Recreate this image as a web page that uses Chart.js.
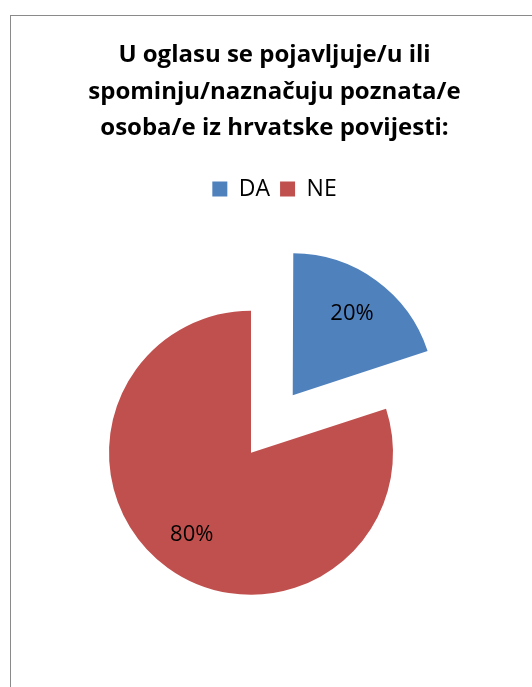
<!DOCTYPE html>
<html>
<head>
<meta charset="utf-8">
<script src="https://cdn.jsdelivr.net/npm/chart.js@4/dist/chart.umd.min.js"></script>
<style>
    html, body { margin: 0; padding: 0; background: #fff; overflow: hidden; }
    #frame {
        position: absolute; left: 10px; top: 15px;
        width: 527px; height: 700px;
        border-top: 1px solid #8a8a8a; border-left: 1px solid #8a8a8a;
    }
    #frame canvas { display: block; }
</style>
</head>
<body>
<div id="frame"><canvas id="pie-chart" width="527" height="700"></canvas></div>
<script>
// Chart data
const titleLines = ['U oglasu se pojavljuje/u ili', 'spominju/naznačuju poznata/e', 'osoba/e iz hrvatske povijesti:'];
const categories = ['DA', 'NE'];
const shares = [20, 80];
const sliceColors = ['#4f81bd', '#c0504d'];
const explode = [284, 0];   // arc offset option (Chart.js moves the slice by offset / 4)

const PIE_RADIUS = 142;
const PLOT_RIGHT_GAP = 47;  // plot area sits left of the title/legend centre

// Narrow the plot area on the right so the pie sits off-centre like the original
const plotArea = {
    id: 'plotArea',
    afterLayout(chart) {
        chart.chartArea.right -= PLOT_RIGHT_GAP;
        chart.chartArea.width -= PLOT_RIGHT_GAP;
    }
};

// Chart.js grows an exploded slice by offset * (1 - sin(circumference));
// shrink the element back so both slices keep the same radius
const keepRadius = {
    id: 'keepRadius',
    afterDatasetUpdate(chart, args) {
        args.meta.data.forEach((arc, i) => {
            const grow = (explode[i] / 4) * (1 - Math.sin(Math.min(Math.PI, arc.circumference)));
            arc.outerRadius = PIE_RADIUS - grow;
        });
    }
};

// Percent labels inside the slices
const sliceLabels = {
    id: 'sliceLabels',
    afterDatasetsDraw(chart) {
        const ctx = chart.ctx;
        const meta = chart.getDatasetMeta(0);
        ctx.save();
        ctx.font = '22px "Open Sans"';
        ctx.fillStyle = '#000';
        ctx.textAlign = 'center';
        ctx.textBaseline = 'middle';
        meta.data.forEach((arc, i) => {
            const mid = (arc.startAngle + arc.endAngle) / 2;
            const shift = explode[i] / 4;
            const r = PIE_RADIUS * 0.71;
            const x = arc.x + Math.cos(mid) * (shift + r);
            const y = arc.y + Math.sin(mid) * (shift + r);
            ctx.fillText(shares[i] + '%', x, y);
        });
        ctx.restore();
    }
};

const ctx = document.getElementById('pie-chart').getContext('2d');
new Chart(ctx, {
    type: 'pie',
    data: {
        labels: categories,
        datasets: [{
            data: shares,
            backgroundColor: sliceColors,
            borderWidth: 0,
            offset: explode
        }]
    },
    options: {
        responsive: false,
        animation: false,
        radius: PIE_RADIUS,
        layout: { padding: { left: 0, right: 0, top: 0, bottom: 21 } },
        plugins: {
            title: {
                display: true,
                text: titleLines,
                color: '#000',
                font: { family: 'Open Sans', size: 24, weight: 'bold', lineHeight: 36.5 / 24 },
                padding: { top: 21, bottom: 21 }
            },
            legend: {
                display: true,
                position: 'top',
                labels: {
                    color: '#000',
                    boxWidth: 15,
                    boxHeight: 15,
                    padding: 10,
                    font: { family: 'Open Sans', size: 23 }
                }
            },
            tooltip: { enabled: false }
        }
    },
    plugins: [plotArea, keepRadius, sliceLabels]
});
</script>
</body>
</html>
